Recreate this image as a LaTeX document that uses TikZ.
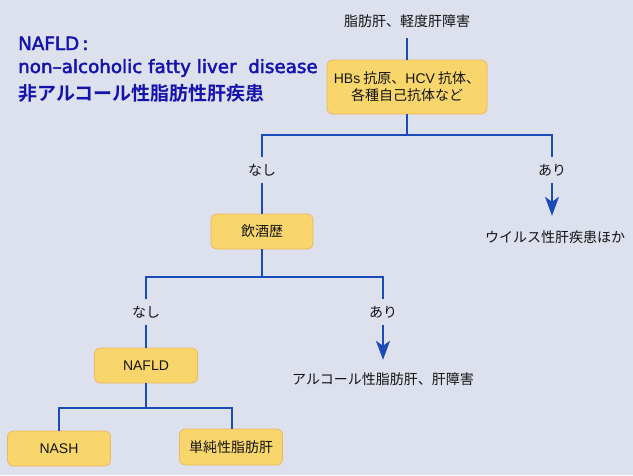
\documentclass[tikz,border=0pt]{standalone}
\usepackage{fontspec}
\usetikzlibrary{arrows.meta}
\newfontfamily\jp{Noto Sans CJK JP}
\newfontfamily\jpb{Noto Sans CJK JP Bold}
\newfontfamily\lat{Liberation Sans}
\newfontfamily\dv{DejaVu Sans}[FakeBold=2.5]
\definecolor{bgc}{HTML}{DDE1EE}
\definecolor{boxfill}{HTML}{F8D66C}
\definecolor{boxborder}{HTML}{EDB660}
\definecolor{lineblue}{HTML}{1A4BB8}
\definecolor{headblue}{HTML}{1414AC}
\definecolor{txt}{HTML}{141414}
\tikzset{
  box/.style={draw=boxborder, fill=boxfill, rounded corners=6pt, line width=0.8pt,
    inner sep=0pt, align=center, text=txt, font=\jp\fontsize{14}{17}\selectfont},
  conn/.style={draw=lineblue, line width=1.8pt},
  arr/.style={conn, -{Stealth[length=19pt,width=14pt,inset=5pt]}},
  lbl/.style={inner sep=0pt, minimum height=25pt, text=txt, font=\jp\fontsize{14}{17}\selectfont},
  head/.style={inner sep=0pt, text=headblue}
}
\begin{document}
\begin{tikzpicture}[x=1pt,y=-1pt]
\fill[bgc] (0,0) rectangle (633,475);
\useasboundingbox (0,0) rectangle (633,475);

% heading
\node[head, anchor=base west, font=\dv\fontsize{18.3}{20}\selectfont] (h1) at (18,50) {NAFLD\,:};
\node[head, anchor=base west, font=\dv\fontsize{18.3}{20}\selectfont] (h2) at (18,73) {non–alcoholic fatty liver\ \ disease};
\node[head, anchor=west, font=\jpb\fontsize{19}{20}\selectfont] (h3) at (18,93.5) {非アルコール性脂肪性肝疾患};

% nodes
\node[lbl, minimum height=34pt] (top) at (407,21) {脂肪肝、軽度肝障害};
\node[box, minimum width=160pt, minimum height=54pt] (hbs) at (407,87)
  {{\lat HBs} 抗原、{\lat HCV} 抗体、\\各種自己抗体など};
\node[lbl] (nashi1) at (262,170) {なし};
\node[lbl] (ari1) at (552,170) {あり};
\node[lbl, minimum height=42pt] (virus) at (555,237) {ウイルス性肝疾患ほか};
\node[box, minimum width=102pt, minimum height=35pt] (drink) at (262,231.5) {飲酒歴};
\node[lbl] (nashi2) at (146,312) {なし};
\node[lbl] (ari2) at (383,312) {あり};
\node[lbl, minimum height=38pt] (alc) at (383,379) {アルコール性脂肪肝、肝障害};
\node[box, minimum width=103pt, minimum height=35pt] (nafld) at (146,365.5) {\lat NAFLD};
\node[box, minimum width=103pt, minimum height=35pt] (nash) at (59,448.5) {\lat NASH};
\node[box, minimum width=103pt, minimum height=36pt] (tanjun) at (231,447) {単純性脂肪肝};

% branch coordinates
\coordinate (b1L) at (262,135);
\coordinate (b1R) at (552,135);
\coordinate (b2L) at (146,277);
\coordinate (b2R) at (383,277);
\coordinate (b3L) at (59,408);
\coordinate (b3R) at (232,408);

% connectors
\draw[conn] (top.south) -- (hbs.north);
\draw[conn] (hbs.south) -- (hbs.south |- b1L);
\draw[conn] (nashi1.north) -- (b1L) -- (b1R) -- (ari1.north);
\draw[arr] (ari1.south) -- (ari1.south |- virus.north);
\draw[conn] (nashi1.south) -- (drink.north);
\draw[conn] (drink.south) -- (drink.south |- b2L);
\draw[conn] (nashi2.north) -- (b2L) -- (b2R) -- (ari2.north);
\draw[arr] (ari2.south) -- (ari2.south |- alc.north);
\draw[conn] (nashi2.south) -- (nashi2.south |- nafld.north);
\draw[conn] (nafld.south) -- (nafld.south |- b3L);
\draw[conn] (b3L |- nash.north) -- (b3L) -- (b3R) -- (b3R |- tanjun.north);
\end{tikzpicture}
\end{document}
